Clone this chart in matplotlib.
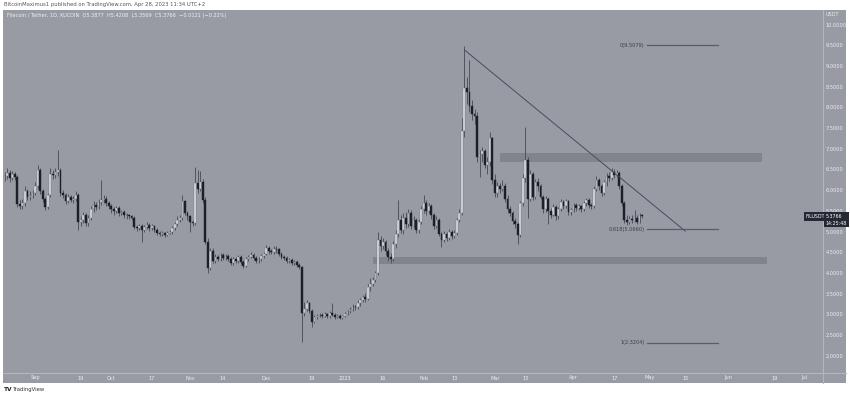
import matplotlib
matplotlib.use('Agg')
import matplotlib.pyplot as plt
import numpy as np
import pandas as pd
from matplotlib.patches import Rectangle
from matplotlib.lines import Line2D
from matplotlib.transforms import blended_transform_factory

# ---------------- data ----------------
start_date = '2022-08-20'
closes = [
    6.35, 6.42, 6.30, 6.40, 6.33, 5.68, 5.62, 5.70, 6.00, 5.85,
    5.88, 5.95, 6.10, 6.50, 5.98, 5.80, 5.60, 5.90, 6.40, 6.38,
    6.45, 6.50, 5.95, 5.90, 5.75, 5.85, 5.78, 5.80, 5.90, 5.25,
    5.30, 5.40, 5.22, 5.35, 5.55, 5.65, 5.60, 5.72, 5.78, 5.80,
    5.70, 5.62, 5.55, 5.50, 5.58, 5.45, 5.48, 5.42, 5.40, 5.38,
    5.35, 5.12, 5.10, 5.15, 5.05, 5.12, 5.18, 5.10, 5.15, 5.05,
    4.98, 4.95, 4.97, 4.93, 4.98, 5.00, 5.10, 5.20, 5.30, 5.35,
    5.75, 5.45, 5.38, 5.25, 5.22, 6.18, 6.05, 6.20, 5.78, 4.76,
    4.13, 4.55, 4.30, 4.40, 4.35, 4.45, 4.38, 4.42, 4.35, 4.25,
    4.35, 4.30, 4.40, 4.28, 4.18, 4.35, 4.40, 4.45, 4.38, 4.30,
    4.35, 4.42, 4.48, 4.62, 4.55, 4.52, 4.60, 4.58, 4.48, 4.40,
    4.38, 4.30, 4.32, 4.25, 4.28, 4.20, 4.15, 3.05, 3.15, 3.28,
    3.10, 2.82, 2.95, 2.98, 3.00, 2.97, 3.02, 2.96, 3.05, 3.00,
    2.95, 2.98, 2.93, 2.97, 3.02, 3.08, 3.12, 3.20, 3.18, 3.28,
    3.35, 3.42, 3.38, 3.68, 3.75, 3.85, 4.00, 4.80, 4.65, 4.75,
    4.55, 4.40, 4.35, 4.70, 4.95, 5.30, 5.05, 5.35, 5.20, 5.45,
    5.15, 5.30, 5.05, 5.25, 5.55, 5.70, 5.50, 5.62, 5.40, 5.15,
    5.30, 4.95, 4.80, 4.95, 4.85, 5.00, 4.90, 4.98, 5.30, 5.45,
    7.45, 8.48, 8.38, 8.05, 7.85, 7.80, 6.80, 6.88, 6.95, 6.62,
    6.70, 7.27, 6.25, 5.95, 6.10, 6.05, 6.12, 5.80, 5.55, 5.45,
    5.27, 5.20, 4.93, 5.70, 6.30, 6.74, 5.80, 6.40, 5.85, 6.20,
    6.10, 5.85, 5.55, 5.80, 5.50, 5.42, 5.60, 5.38, 5.55, 5.72,
    5.62, 5.75, 5.48, 5.52, 5.65, 5.58, 5.62, 5.55, 5.70, 5.78,
    5.65, 5.62, 6.05, 6.25, 6.10, 5.95, 6.20, 6.35, 6.30, 6.45,
    6.38, 6.42, 6.10, 5.70, 5.30, 5.25, 5.32, 5.28, 5.35, 5.25,
    5.40, 5.38,
]
first_open = 6.30
highs = [
    6.45, 6.55, 6.50, 6.48, 6.45, 6.38, 5.78, 5.80, 6.12, 6.05,
    5.98, 6.02, 6.20, 6.62, 6.55, 6.05, 5.85, 5.95, 6.55, 6.50,
    6.55, 6.98, 6.55, 6.02, 5.95, 5.92, 5.90, 5.88, 5.98, 5.95,
    5.38, 5.48, 5.45, 5.40, 5.62, 5.75, 5.72, 5.80, 6.25, 5.90,
    5.88, 5.75, 5.68, 5.60, 5.62, 5.62, 5.52, 5.52, 5.46, 5.44,
    5.42, 5.38, 5.18, 5.20, 5.20, 5.16, 5.24, 5.22, 5.20, 5.18,
    5.10, 5.02, 5.02, 5.01, 5.03, 5.06, 5.15, 5.25, 5.38, 5.42,
    5.90, 5.78, 5.50, 5.42, 5.30, 6.57, 6.50, 6.48, 6.28, 5.85,
    4.85, 4.62, 4.62, 4.46, 4.45, 4.50, 4.50, 4.48, 4.46, 4.40,
    4.40, 4.40, 4.45, 4.44, 4.32, 4.40, 4.45, 4.52, 4.50, 4.42,
    4.40, 4.46, 4.52, 4.68, 4.66, 4.60, 4.65, 4.66, 4.62, 4.52,
    4.45, 4.42, 4.36, 4.36, 4.32, 4.32, 4.24, 4.18, 3.30, 3.35,
    3.32, 3.15, 3.00, 3.02, 3.04, 3.04, 3.06, 3.05, 3.10, 3.28,
    3.04, 3.02, 3.01, 3.00, 3.06, 3.12, 3.18, 3.25, 3.24, 3.35,
    3.40, 3.48, 3.52, 3.75, 3.90, 3.92, 4.05, 5.00, 4.90, 4.85,
    4.80, 4.62, 4.50, 4.78, 5.05, 5.77, 5.40, 5.45, 5.48, 5.55,
    5.52, 5.38, 5.35, 5.32, 5.62, 5.90, 5.78, 5.70, 5.68, 5.45,
    5.38, 5.35, 5.00, 5.02, 5.00, 5.08, 5.05, 5.05, 5.35, 5.55,
    7.75, 9.49, 8.75, 9.15, 8.20, 7.98, 7.90, 6.98, 7.05, 7.00,
    6.80, 7.42, 7.30, 6.40, 6.20, 6.18, 6.25, 6.18, 5.90, 5.62,
    5.50, 5.35, 5.25, 5.75, 6.40, 7.54, 6.80, 6.50, 6.45, 6.28,
    6.30, 6.15, 5.90, 5.88, 5.85, 5.58, 5.68, 5.65, 5.60, 5.80,
    5.78, 5.80, 5.78, 5.58, 5.70, 5.70, 5.68, 5.66, 5.75, 5.82,
    5.82, 5.70, 6.10, 6.35, 6.30, 6.15, 6.25, 6.42, 6.45, 6.55,
    6.52, 6.50, 6.48, 6.15, 5.75, 5.40, 5.38, 5.40, 5.52, 5.40,
    5.45, 5.44,
]
lows = [
    6.22, 6.28, 6.20, 6.25, 6.25, 5.60, 5.55, 5.55, 5.62, 5.78,
    5.78, 5.82, 5.90, 6.05, 5.92, 5.72, 5.52, 5.55, 5.85, 6.28,
    6.30, 6.35, 5.88, 5.82, 5.68, 5.70, 5.72, 5.70, 5.75, 5.05,
    5.15, 5.22, 5.15, 5.15, 5.30, 5.48, 5.52, 5.55, 5.65, 5.70,
    5.62, 5.55, 5.45, 5.40, 5.45, 5.38, 5.40, 5.35, 5.32, 5.32,
    5.28, 5.08, 5.02, 5.05, 4.76, 5.00, 5.08, 5.02, 5.05, 5.00,
    4.92, 4.90, 4.90, 4.88, 4.90, 4.94, 4.96, 5.05, 5.15, 5.25,
    5.30, 5.40, 5.30, 5.00, 5.15, 5.18, 5.95, 5.98, 5.70, 4.70,
    4.00, 4.08, 4.25, 4.25, 4.30, 4.30, 4.32, 4.33, 4.30, 4.20,
    4.20, 4.25, 4.26, 4.22, 4.12, 4.15, 4.30, 4.36, 4.33, 4.25,
    4.26, 4.30, 4.38, 4.45, 4.48, 4.46, 4.48, 4.50, 4.42, 4.35,
    4.32, 4.25, 4.26, 4.20, 4.20, 4.15, 4.10, 2.35, 2.98, 3.10,
    3.05, 2.70, 2.80, 2.90, 2.94, 2.93, 2.94, 2.92, 2.93, 2.96,
    2.90, 2.92, 2.89, 2.90, 2.95, 3.00, 3.05, 3.10, 3.12, 3.15,
    3.22, 3.30, 3.30, 3.35, 3.58, 3.70, 3.80, 3.95, 4.55, 4.58,
    4.45, 4.30, 4.25, 4.30, 4.62, 4.88, 4.98, 4.95, 5.10, 5.12,
    5.08, 5.10, 4.98, 4.98, 5.20, 5.45, 5.42, 5.45, 5.32, 5.08,
    5.10, 4.90, 4.64, 4.75, 4.78, 4.80, 4.84, 4.85, 4.92, 5.25,
    5.40, 7.30, 8.10, 7.90, 7.70, 7.60, 6.70, 6.33, 6.70, 6.55,
    6.40, 6.60, 6.15, 5.85, 5.85, 5.95, 5.98, 5.72, 5.45, 5.38,
    5.20, 5.10, 4.70, 4.88, 5.62, 6.20, 5.35, 5.75, 5.78, 5.80,
    6.00, 5.80, 5.45, 5.48, 5.20, 5.35, 5.38, 5.30, 5.32, 5.50,
    5.55, 5.58, 5.42, 5.40, 5.48, 5.50, 5.52, 5.48, 5.50, 5.62,
    5.58, 5.55, 5.58, 5.98, 6.02, 5.88, 5.90, 6.12, 6.22, 6.25,
    6.30, 6.32, 6.05, 5.62, 5.22, 5.18, 5.20, 5.22, 5.24, 5.20,
    5.22, 5.34,
]

price_ticks = [10.0, 9.5, 9.0, 8.5, 8.0, 7.5, 7.0, 6.5, 6.0, 5.5, 5.0, 4.5, 4.0, 3.5, 3.0, 2.5, 2.0]
time_labels = ['Sep', '19', 'Oct', '17', 'Nov', '14', 'Dec', '19', '2023', '16', 'Feb',
               '13', 'Mar', '13', 'Apr', '17', 'May', '15', 'Jun', '19', 'Jul']
time_dates = ['2022-09-01', '2022-09-19', '2022-10-01', '2022-10-17', '2022-11-01', '2022-11-14',
              '2022-12-01', '2022-12-19', '2023-01-01', '2023-01-16', '2023-02-01', '2023-02-13',
              '2023-03-01', '2023-03-13', '2023-04-01', '2023-04-17', '2023-05-01', '2023-05-15',
              '2023-06-01', '2023-06-19', '2023-07-01']

trend_dates = ['2023-02-17', '2023-05-15']
trend_prices = [9.40, 5.02]

resist_dates = ['2023-03-03', '2023-06-14']
resist_prices = [6.69, 6.91]
support_dates = ['2023-01-12', '2023-06-16']
support_prices = [4.22, 4.40]

fib_dates = ['2023-04-30', '2023-05-28']
fib_levels = [9.5079, 5.0660, 2.3204]
fib_names = ['0(9.5079)', '0.618(5.0660)', '1(2.3204)']

last_price = '5.3766'
countdown = '14:25:48'

# ---------------- styling ----------------
W, H = 850, 396
BG = '#989ba4'
SEP = '#b4b6be'
TXT = '#eeeef2'
UP = '#e2e3e8'
DOWN = '#1c1f27'
WICK = '#4c4f58'
ZONE = '#7d808a'
LINE = '#4a4d57'

def fx(px):
    return px / W

def fy(py):
    return 1 - py / H

t0 = pd.Timestamp(start_date)
def didx(s):
    return (pd.Timestamp(s) - t0).days

fig = plt.figure(figsize=(W / 100, H / 100), dpi=100)
fig.patch.set_facecolor('white')

# panel background
fig.patches.append(Rectangle((fx(3), fy(383)), fx(846) - fx(3), fy(10) - fy(383),
                             transform=fig.transFigure, facecolor=BG, edgecolor='none', zorder=-10))
fig.add_artist(Line2D([fx(823), fx(823)], [fy(383), fy(10)], transform=fig.transFigure,
                      color=SEP, lw=0.8, zorder=-5))
fig.add_artist(Line2D([fx(3), fx(846)], [fy(372.5), fy(372.5)], transform=fig.transFigure,
                      color=SEP, lw=0.8, zorder=-5))

ax = fig.add_axes([fx(3), fy(372), fx(822) - fx(3), fy(10) - fy(372)])
ax.set_zorder(1)
ax.set_facecolor('none')
ax.axis('off')
ax.set_xlim((3 - 4.6) / 2.54, (822 - 4.6) / 2.54)
ax.set_ylim(10 - (372 - 25) / 41.4, 10 - (10 - 25) / 41.4)

n = len(closes)
xs = np.arange(n)
c = np.array(closes)
o = np.concatenate([[first_open], c[:-1]])
h = np.maximum(np.array(highs), np.maximum(o, c))
l = np.minimum(np.array(lows), np.minimum(o, c))

# zones
for ds, ps in [(resist_dates, resist_prices), (support_dates, support_prices)]:
    x0, x1 = didx(ds[0]), didx(ds[1])
    ax.add_patch(Rectangle((x0, ps[0]), x1 - x0, ps[1] - ps[0], facecolor=ZONE,
                           edgecolor='none', alpha=0.85, zorder=1))

# candles
ax.vlines(xs, l, h, color=WICK, lw=0.65, zorder=2)
up = c >= o
bot = np.minimum(o, c)
height = np.maximum(np.abs(c - o), 0.015)
ax.bar(xs[up], height[up], bottom=bot[up], width=0.7, color=UP, edgecolor='#6d707a',
       linewidth=0.3, zorder=3)
ax.bar(xs[~up], height[~up], bottom=bot[~up], width=0.7, color=DOWN, edgecolor=DOWN,
       linewidth=0.3, zorder=3)

# trend line
ax.plot([didx(d) for d in trend_dates], trend_prices, color=LINE, lw=0.7, zorder=4)

# fib lines
fx0, fx1 = didx(fib_dates[0]), didx(fib_dates[1])
for lev, name in zip(fib_levels, fib_names):
    ax.plot([fx0, fx1], [lev, lev], color='#5a5d68', lw=0.9, zorder=4)
    ax.text(fx0 - 1.0, lev, name, fontsize=3.6, color='#3a3d46', ha='right', va='center', zorder=5)

# price axis labels
tr = blended_transform_factory(fig.transFigure, ax.transData)
for p in price_ticks:
    ax.text(fx(826), p, f'{p:.4f}', transform=tr, fontsize=3.6, color=TXT,
            ha='left', va='center', clip_on=False)
fig.text(fx(826), fy(14), 'USDT', fontsize=3.6, color=TXT, ha='left', va='center')

# last price tags
lp = float(last_price)
ax.text(fx(806), lp, 'FILUSDT', transform=tr, fontsize=3.4, color='white', ha='left',
        va='center', clip_on=False,
        bbox=dict(boxstyle='square,pad=0.35', facecolor='#252832', edgecolor='none'))
ax.text(fx(825.5), lp + 0.07, f'{last_price}\n{countdown}', transform=tr, fontsize=3.4, color='white',
        ha='left', va='top', clip_on=False, linespacing=1.5,
        bbox=dict(boxstyle='square,pad=0.35', facecolor='#252832', edgecolor='none'))

# time axis labels
trx = blended_transform_factory(ax.transData, fig.transFigure)
for lab, d in zip(time_labels, time_dates):
    ax.text(didx(d), fy(378), lab, transform=trx, fontsize=3.6, color=TXT,
            ha='center', va='center', clip_on=False)

# header / legend / footer
fig.text(fx(4), fy(4.5), 'BitcoinMaximus1 published on TradingView.com, Apr 28, 2023 11:34 UTC+2',
         fontsize=3.8, color='#555', ha='left', va='center')
fig.text(fx(7), fy(15.5),
         'Filecoin / Tether, 1D, KUCOIN  O5.3877  H5.4208  L5.3569  C5.3766  \u22120.0121 (\u22120.22%)',
         fontsize=3.6, color='#f2f2f5', ha='left', va='center')
fig.text(fx(4), fy(389.5), 'TV', fontsize=4.2, color='#222', ha='left', va='center', weight='bold')
fig.text(fx(13), fy(389.5), 'TradingView', fontsize=3.8, color='#333', ha='left', va='center')

fig.savefig('out.png', dpi=100, facecolor='white')
